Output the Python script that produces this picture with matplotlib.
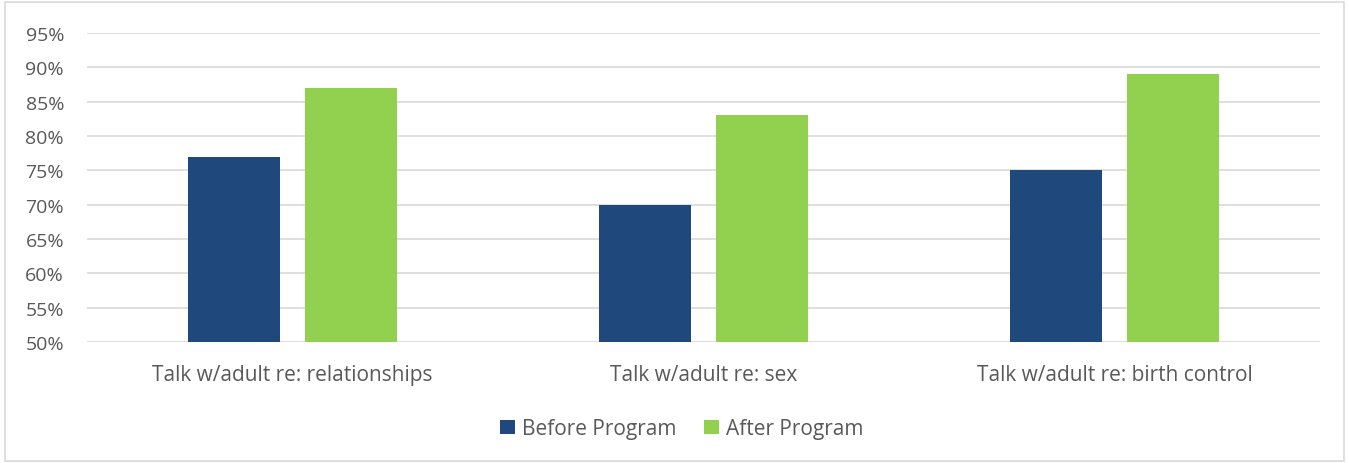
import numpy as np
import matplotlib.pyplot as plt
from matplotlib.patches import Rectangle
from matplotlib.ticker import FuncFormatter

categories = ['Talk w/adult re: relationships', 'Talk w/adult re: sex', 'Talk w/adult re: birth control']
before = [77, 70, 75]
after = [87, 83, 89]

plt.rcParams['font.family'] = ['Open Sans', 'DejaVu Sans']
text_col = '#595959'

fig = plt.figure(figsize=(13.49, 4.64), dpi=100)
ax = fig.add_axes([0.0645, 0.2608, 0.914, 0.6659])

x = np.arange(len(categories))
w = 0.224
off = 0.142
ax.bar(x - off, before, w, color='#1F497D', label='Before Program', zorder=3)
ax.bar(x + off, after, w, color='#92D050', label='After Program', zorder=3)

ax.set_xlim(-0.5, 2.5)
ax.set_ylim(50, 95)
ax.set_yticks(np.arange(50, 96, 5))
ax.yaxis.set_major_formatter(FuncFormatter(lambda v, p: f'{int(v)}%'))
ax.set_xticks(x)
ax.set_xticklabels(categories)
ax.grid(axis='y', color='#D9D9D9', linewidth=1.2, zorder=0)
for s in ax.spines.values():
    s.set_visible(False)
ax.tick_params(length=0, colors=text_col, labelsize=14)
ax.tick_params(axis='x', labelsize=15, pad=16)
ax.tick_params(axis='y', pad=16.5)

leg = fig.legend(loc='center', bbox_to_anchor=(0.5055, 0.074), ncol=2, frameon=False,
                 fontsize=15, handlelength=0.7, handleheight=0.7, columnspacing=1.35,
                 handletextpad=0.35)
for t in leg.get_texts():
    t.set_color(text_col)

fig.patches.append(Rectangle((0.004, 0.005), 0.992, 0.988, transform=fig.transFigure,
                             fill=False, edgecolor='#D9D9D9', linewidth=1.2))

fig.savefig('out.png', dpi=100)
